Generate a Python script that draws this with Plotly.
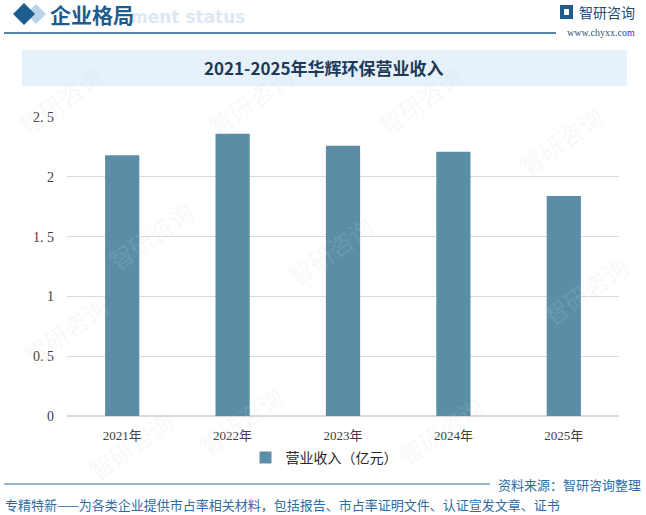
import plotly.graph_objects as go

# data
years = ["2021年", "2022年", "2023年", "2024年", "2025年"]
revenue = [2.18, 2.36, 2.26, 2.21, 1.84]
series_name = "营业收入（亿元）"
tick_vals = [0, 0.5, 1, 1.5, 2, 2.5]
tick_text = ["0", "0. 5", "1", "1. 5", "2", "2. 5"]

# canvas and plot area, pixels
FW, FH = 646, 515
L, R, T, B = 67, 619, 117, 416


# paper = whole figure (margins are zero)
def px(x):
    return x / FW


def py(y):
    return 1 - y / FH


CJK = "Noto Sans CJK SC"
SERIF = "Liberation Serif, Noto Sans CJK SC"

fig = go.Figure()
fig.add_trace(go.Bar(
    x=years, y=revenue, name=series_name,
    marker_color="#5B8EA6", marker_line_width=0,
))

shapes = []
annos = []


def note(x, y, text, size, color, family=CJK, **kw):
    d = dict(xref="paper", yref="paper", x=px(x), y=py(y), text=text, showarrow=False,
             xanchor="center", yanchor="middle",
             font=dict(family=family, size=size, color=color))
    d.update(kw)
    annos.append(d)


# faint watermarks
for wx, wy in [(60, 100), (150, 235), (65, 330), (250, 100), (330, 250), (240, 420),
               (560, 140), (585, 290), (440, 430), (420, 100), (130, 445)]:
    note(wx, wy, "智研咨询", 24, "rgba(200,213,228,0.16)", textangle=-35)


def diamond(cx, cy, r, color):
    return dict(type="path", xref="paper", yref="paper",
                path=f"M {px(cx - r)},{py(cy)} L {px(cx)},{py(cy - r)} L {px(cx + r)},{py(cy)} L {px(cx)},{py(cy + r)} Z",
                fillcolor=color, line_width=0, layer="above")


shapes.append(diamond(36, 14, 10, "#B9D3E8"))
shapes.append(diamond(24, 14, 11, "#1F5C8E"))
# header rule
shapes.append(dict(type="line", xref="paper", yref="paper", x0=px(4), x1=px(556), y0=py(33), y1=py(33),
                   line=dict(color="#1F5C8E", width=1.5)))
# logo icon
shapes.append(dict(type="rect", xref="paper", yref="paper", x0=px(560), x1=px(573), y0=py(5), y1=py(19),
                   fillcolor="#1F5C8E", line_width=0))
shapes.append(dict(type="rect", xref="paper", yref="paper", x0=px(564), x1=px(569), y0=py(9), y1=py(15),
                   fillcolor="white", line_width=0))
# title band
shapes.append(dict(type="rect", xref="paper", yref="paper", x0=px(22), x1=px(627), y0=py(50), y1=py(86),
                   fillcolor="#E6F1F9", line_width=0, layer="below"))
# footer rule
shapes.append(dict(type="line", xref="paper", yref="paper", x0=px(4), x1=px(490), y0=py(484), y1=py(484),
                   line=dict(color="#2E72AE", width=1.2)))

note(128, 17, "<b>ment status</b>", 17, "#DCE9F4", family="DejaVu Sans", xanchor="left")
note(48, 14, "<b>企业格局</b>", 21, "#1F5C8E", xanchor="left")
note(577, 12, "智研咨询", 14, "#1F4E7A", xanchor="left")
note(637, 32, "www.chyxx.com", 10, "#2F4F6F", family="Liberation Serif", xanchor="right")
note(324, 68, "<b>2021-2025年华辉环保营业收入</b>", 17, "#1E3A58")
note(643, 484, "资料来源：智研咨询整理", 13, "#2E6CA6", xanchor="right")
note(3, 504, "专精特新——为各类企业提供市占率相关材料，包括报告、市占率证明文件、认证宣发文章、证书",
     13, "#2E6CA6", xanchor="left")

fig.update_layout(
    width=FW, height=FH,
    margin=dict(l=0, r=0, t=0, b=0, pad=0),
    paper_bgcolor="white", plot_bgcolor="white",
    bargap=0.69,
    showlegend=True,
    legend=dict(orientation="h", x=px(324), xanchor="center", y=py(458), yanchor="middle",
                font=dict(family=CJK, size=14, color="#262626"), itemwidth=30),
    xaxis=dict(domain=[px(L), px(R)], automargin=False, showgrid=False, showline=False, ticks="",
               ticklabelstandoff=10, tickfont=dict(family=SERIF, size=13, color="#404040")),
    yaxis=dict(domain=[py(B), py(T)], automargin=False, range=[0, 2.5], tickvals=tick_vals, ticktext=tick_text,
               showgrid=True, gridcolor="#D9D9D9", gridwidth=1, zeroline=True, zerolinecolor="#D9D9D9",
               showline=False, ticks="", ticklabelstandoff=12,
               tickfont=dict(family=SERIF, size=14, color="#404040")),
    shapes=shapes,
    annotations=annos,
)

fig.write_html("out.html", config={"displayModeBar": False},
               post_script="document.body.style.margin='0px';")
